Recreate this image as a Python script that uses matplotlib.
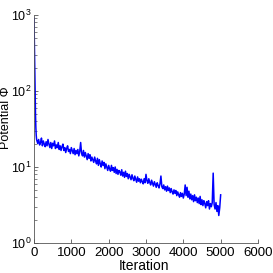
import numpy as np
import matplotlib
matplotlib.use("Agg")
import matplotlib.pyplot as plt

plt.rcParams['font.family'] = ['Liberation Sans', 'DejaVu Sans']
plt.rcParams['mathtext.fontset'] = 'custom'
plt.rcParams['mathtext.rm'] = 'Liberation Sans'

# values (iteration, potential)
iters_start = [0, 10, 20, 30, 40, 50, 60, 70, 80]
phi_start = [900, 420, 180, 90, 50, 33, 26, 23, 22]

iters_main = list(range(100, 5001, 25))
phi_main = [
    20.5, 23, 19.5, 21, 24, 19, 22, 20, 18.5, 21.5,
    19, 23, 20, 18, 21, 17.5, 20.5, 19, 22, 17.5,
    19.5, 18, 21, 17, 19, 16.5, 18.5, 20, 16.5, 18,
    15.5, 17.5, 19, 16, 17, 15, 18, 16.5, 15, 17.5,
    14.5, 16.5, 15, 17, 14, 16, 21, 15, 14, 16.5,
    13.5, 15.5, 14, 12.5, 15, 13, 14.5, 12, 13.5, 12.5,
    11.5, 13.5, 12, 11, 13, 10.5, 12.5, 11, 10, 12,
    10.5, 11.5, 9.5, 11, 10, 9, 10.5, 9.5, 8.8, 10.5,
    9, 9.8, 8.5, 10, 8.2, 9.3, 8, 9, 8.6, 7.8,
    9.2, 7.6, 8.5, 7.3, 8.8, 7.5, 8.2, 7, 8, 7.4,
    6.8, 7.9, 7.1, 6.6, 7.6, 6.9, 6.3, 7.4, 6.5, 7,
    6.2, 6.9, 6.4, 6, 7, 6.2, 8, 6.6, 6.1, 7,
    6.3, 5.8, 6.7, 6.1, 5.6, 6.4, 5.9, 5.4, 6.2, 5.7,
    5.3, 6, 7.6, 5.5, 5.2, 5.8, 5, 5.5, 4.8, 5.6,
    4.9, 5.3, 4.6, 5.2, 4.7, 4.4, 5, 4.5, 4.9, 4.2,
    4.7, 4.3, 4, 4.6, 4.1, 4.5, 3.9, 4.4, 5.8, 4.2,
    5.4, 4, 4.8, 3.8, 4.4, 3.7, 4.2, 3.5, 4.3, 3.6,
    4, 3.4, 3.9, 3.3, 4.1, 3.2, 3.7, 3.1, 3.6, 3.3,
    2.9, 3.5, 3.1, 3.6, 2.8, 3.3, 3, 3.4, 8.3, 3.2,
    2.8, 3.4, 2.6, 3.1, 2.3, 2.9, 4.3,
]

iters = iters_start + iters_main
phi = phi_start + phi_main

fig = plt.figure(figsize=(2.73, 2.73), dpi=100)
ax = fig.add_axes([0.1245, 0.11, 0.8205, 0.835])

ax.semilogy(iters, phi, color='blue', linewidth=1.1)

ax.set_xlim(0, 6000)
ax.set_ylim(1, 1000)
ax.set_xticks([0, 1000, 2000, 3000, 4000, 5000, 6000])
for side in ['top', 'right']:
    ax.spines[side].set_visible(False)
for side in ['left', 'bottom']:
    ax.spines[side].set_linewidth(0.6)
    ax.spines[side].set_color('#555555')
ax.tick_params(direction='in', width=0.6, length=3, color='#555555')
ax.tick_params(axis='x', labelsize=9.5, pad=3)
ax.tick_params(axis='y', labelsize=9, pad=1.5)
ax.tick_params(which='minor', direction='in', width=0.5, length=2, color='#555555')

ax.set_xlabel('Iteration', fontsize=10)
ax.xaxis.set_label_coords(0.49, -0.07)
ax.set_ylabel('Potential Φ', fontsize=9)
ax.yaxis.set_label_coords(-0.097, 0.55)

fig.savefig('out.png', dpi=100)
